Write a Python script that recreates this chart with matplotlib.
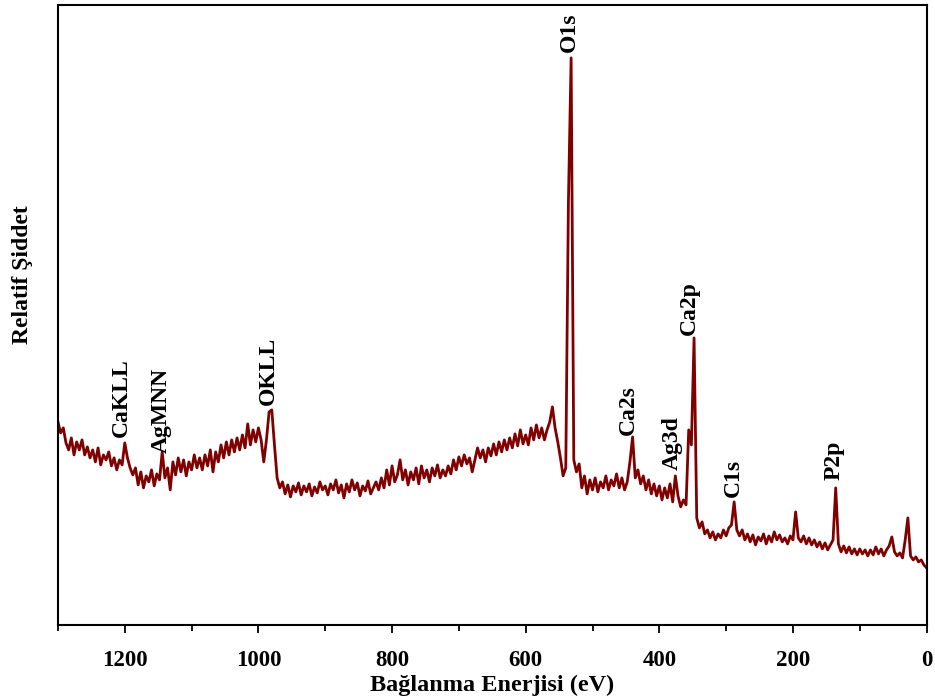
import numpy as np
import matplotlib
matplotlib.use('Agg')
import matplotlib.pyplot as plt
from matplotlib.ticker import MultipleLocator

plt.rcParams['font.family'] = ['Liberation Serif', 'DejaVu Serif']
plt.rcParams['font.weight'] = 'bold'

# XPS survey: binding energy grid (eV), 4 eV step, high -> low
energy = np.arange(1300, -1, -4)

# intensity (a.u.)
intensity = [
    203, 192, 197, 182, 175, 187, 170, 183, 175, 185,
    170, 178, 167, 175, 163, 177, 160, 170, 165, 173,
    159, 167, 155, 165, 160, 182, 167, 157, 150, 157,
    140, 153, 137, 149, 143, 155, 139, 151, 145, 173,
    147, 157, 135, 163, 150, 167, 153, 165, 149, 163,
    155, 170, 157, 167, 155, 170, 159, 175, 153, 173,
    163, 180, 167, 183, 170, 185, 173, 187, 175, 190,
    177, 201, 180, 195, 183, 197, 185, 163, 185, 213,
    215, 180, 147, 137, 143, 131, 140, 128, 139, 133,
    142, 130, 139, 133, 141, 129, 138, 132, 143, 135,
    139, 130, 141, 135, 145, 132, 140, 127, 141, 133,
    145, 135, 142, 129, 139, 134, 144, 131, 137, 143,
    135, 147, 137, 155, 140, 159, 143, 150, 165, 145,
    155, 140, 153, 145, 157, 141, 159, 147, 155, 143,
    157, 149, 160, 147, 155, 149, 159, 151, 165, 155,
    168, 159, 170, 161, 167, 153, 165, 177, 167, 175,
    163, 177, 169, 181, 170, 183, 173, 185, 175, 187,
    177, 191, 179, 195, 181, 190, 180, 197, 185, 200,
    187, 197, 185, 195, 203, 218, 197, 183, 167, 149,
    157, 425, 567, 165, 153, 161, 137, 149, 131, 145,
    135, 147, 133, 143, 137, 149, 135, 145, 139, 151,
    137, 147, 135, 143, 163, 188, 147, 155, 141, 149,
    135, 145, 131, 141, 129, 139, 125, 137, 127, 141,
    123, 149, 129, 118, 125, 120, 195, 180, 287, 107,
    97, 103, 91, 95, 87, 93, 85, 91, 87, 95,
    89, 97, 100, 123, 95, 89, 95, 85, 91, 83,
    90, 80, 88, 84, 91, 81, 89, 83, 93, 85,
    90, 83, 87, 81, 89, 85, 113, 87, 83, 89,
    81, 87, 80, 85, 78, 83, 76, 82, 75, 80,
    85, 137, 81, 73, 79, 72, 78, 71, 76, 70,
    76, 71, 75, 69, 75, 70, 78, 71, 76, 69,
    75, 79, 88, 73, 69, 72, 67, 85, 107, 69,
    65, 68, 63, 65, 60, 57,
]

# peak labels: (text, energy, intensity where the text starts)
peak_names = ['CaKLL', 'AgMNN', 'OKLL', 'O1s', 'Ca2s', 'Ag3d', 'Ca2p', 'C1s', 'P2p']
peak_energy = [1205, 1145, 985, 535, 446, 381, 355, 289, 139]
peak_height = [188, 172, 220, 573, 190, 155, 290, 128, 145]

fig = plt.figure(figsize=(9.35, 6.99), dpi=100)
ax = fig.add_axes([0.062, 0.106, 0.929, 0.887])

ax.plot(energy, intensity, color='#800000', lw=2.0)

for name, e, h in zip(peak_names, peak_energy, peak_height):
    ax.text(e, h, name, rotation=90, ha='center', va='bottom',
            fontsize=17, fontweight='bold')

ax.set_xlim(1300, 0)
ax.set_ylim(0, 620)
ax.set_yticks([])
ax.xaxis.set_major_locator(MultipleLocator(200))
ax.xaxis.set_minor_locator(MultipleLocator(100))
ax.tick_params(axis='x', which='major', direction='out', length=6, width=1.3,
               labelsize=16.5, pad=12)
ax.tick_params(axis='x', which='minor', direction='out', length=4, width=1.3)
for s in ax.spines.values():
    s.set_linewidth(1.5)

ax.set_xlabel('Bağlanma Enerjisi (eV)', fontsize=17.5, fontweight='bold', labelpad=3)
ax.set_ylabel('Relatif Şiddet', fontsize=17, fontweight='bold')
ax.yaxis.set_label_coords(-0.029, 0.565)

fig.savefig('out.png', dpi=100)
